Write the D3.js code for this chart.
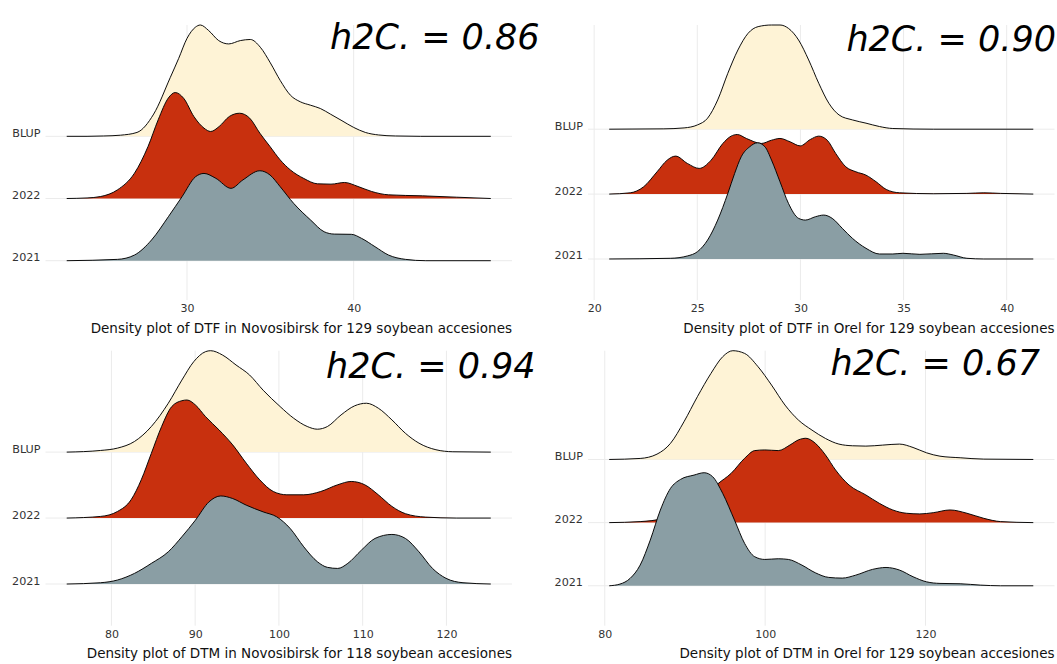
<!DOCTYPE html>
<html>
<head>
<meta charset="utf-8">
<script src="https://cdn.jsdelivr.net/npm/d3@7"></script>
<style>
  html, body { margin: 0; padding: 0; background: #ffffff; }
  svg { display: block; font-family: "DejaVu Sans", sans-serif; }
</style>
</head>
<body>
<svg id="chart" width="1057" height="664"></svg>
<script>
// ---- Density estimates: [days, relative density] ----------------------
// DTF, Novosibirsk
const dtfNovBLUP = [[22.78,0],[24,0],[25,0.003],[26,0.01],[27,0.035],[28,0.2],[29,0.53],[29.5,0.7],[30,0.88],[30.5,0.98],[30.8,1.0],[31.3,0.95],[31.9,0.86],[32.5,0.83],[33.2,0.86],[33.8,0.87],[34.4,0.8],[35,0.66],[35.6,0.5],[36.2,0.37],[36.8,0.31],[37.4,0.28],[38,0.25],[38.6,0.2],[39.3,0.14],[40,0.08],[40.7,0.035],[41.5,0.012],[42.5,0.003],[44,0],[48.23,0]];
const dtfNov2022 = [[22.78,0],[24,0.005],[24.82,0.018],[25.83,0.078],[26.85,0.228],[27.66,0.467],[28.27,0.707],[28.88,0.903],[29.29,0.952],[29.8,0.9],[30.41,0.737],[31.02,0.632],[31.42,0.602],[31.93,0.647],[32.54,0.737],[33.15,0.766],[33.76,0.722],[34.37,0.587],[34.98,0.467],[35.59,0.347],[36.2,0.257],[37.01,0.18],[37.83,0.132],[38.64,0.129],[39.45,0.144],[40.26,0.108],[41.08,0.063],[42.09,0.033],[44.13,0.024],[46.16,0.012],[48.23,0]];
const dtfNov2021 = [[22.78,0],[25.83,0.012],[26.85,0.051],[27.87,0.186],[28.88,0.395],[29.7,0.575],[30.51,0.754],[31.02,0.784],[31.73,0.74],[32.64,0.65],[33.35,0.725],[34.37,0.808],[34.98,0.77],[35.59,0.665],[36.4,0.515],[37.42,0.365],[38.23,0.26],[38.84,0.239],[39.86,0.237],[40.47,0.201],[41.28,0.126],[42.09,0.051],[43.11,0.012],[44.33,0],[48.23,0]];

// DTF, Orel
const dtfOrelBLUP = [[20.73,0],[23.38,0.003],[24.36,0.011],[25.01,0.037],[25.5,0.095],[25.99,0.252],[26.48,0.481],[26.97,0.682],[27.46,0.825],[27.95,0.883],[28.6,0.897],[29.01,0.897],[29.42,0.868],[29.91,0.768],[30.4,0.596],[30.89,0.395],[31.38,0.223],[31.87,0.123],[32.52,0.08],[33.18,0.052],[33.83,0.023],[34.48,0.006],[36.44,0],[41.29,0]];
const dtfOrel2022 = [[20.73,0],[21.75,0.011],[22.4,0.063],[23.05,0.192],[23.54,0.292],[23.95,0.327],[24.52,0.264],[25.09,0.221],[25.67,0.292],[26.24,0.436],[26.64,0.499],[26.94,0.513],[27.38,0.479],[28.11,0.436],[28.6,0.464],[29.01,0.479],[29.5,0.45],[29.99,0.415],[30.48,0.47],[30.89,0.499],[31.3,0.464],[31.71,0.35],[32.2,0.235],[32.69,0.192],[33.18,0.163],[33.67,0.106],[34.16,0.04],[34.81,0.011],[36.44,0.003],[38.07,0.006],[38.89,0.011],[39.71,0.006],[41.29,0]];
const dtfOrel2021 = [[20.73,0],[23.71,0.006],[24.52,0.026],[25.01,0.063],[25.5,0.163],[25.99,0.335],[26.48,0.564],[26.81,0.736],[27.13,0.88],[27.54,0.966],[27.92,1.0],[28.28,0.966],[28.6,0.851],[29.01,0.665],[29.42,0.479],[29.91,0.35],[30.24,0.335],[30.73,0.364],[31.13,0.378],[31.54,0.35],[32.03,0.264],[32.52,0.178],[33.18,0.092],[33.83,0.043],[34.48,0.043],[34.97,0.049],[35.79,0.04],[36.93,0.049],[37.42,0.034],[38.07,0.006],[38.89,0],[41.29,0]];

// DTM, Novosibirsk
const dtmNovBLUP = [[74.66,0],[78.71,0.014],[80.73,0.034],[82.75,0.09],[84.77,0.217],[86.79,0.414],[88.41,0.61],[89.83,0.766],[91.24,0.851],[91.85,0.859],[93.27,0.822],[94.88,0.738],[96.5,0.653],[98.12,0.524],[100.14,0.386],[101.76,0.287],[103.38,0.217],[104.59,0.194],[105.8,0.217],[107.42,0.315],[109.04,0.392],[110.45,0.414],[111.87,0.372],[113.49,0.273],[115.11,0.159],[116.72,0.076],[118.75,0.02],[120.77,0.003],[125.3,0]];
const dtmNov2022 = [[74.66,0],[78.71,0.014],[80.73,0.056],[82.35,0.155],[83.56,0.324],[84.77,0.549],[85.99,0.775],[87.2,0.944],[88.41,0.994],[89.02,1.0],[90.03,0.958],[91.24,0.859],[92.86,0.746],[94.48,0.62],[96.1,0.465],[97.71,0.324],[99.33,0.225],[100.95,0.197],[102.97,0.197],[104.99,0.225],[107.02,0.282],[108.63,0.31],[110.25,0.282],[111.87,0.197],[113.49,0.099],[115.11,0.037],[117.53,0.008],[121.17,0],[125.3,0]];
const dtmNov2021 = [[74.66,0],[78.71,0.011],[80.73,0.034],[82.75,0.09],[84.77,0.175],[86.79,0.273],[88.41,0.4],[90.03,0.541],[91.65,0.696],[93.06,0.746],[94.48,0.724],[96.1,0.668],[98.12,0.611],[99.74,0.569],[101.35,0.47],[102.97,0.315],[104.59,0.189],[105.8,0.141],[107.02,0.132],[108.23,0.175],[109.85,0.287],[111.47,0.386],[113.49,0.42],[115.11,0.386],[116.72,0.273],[118.34,0.132],[119.96,0.048],[121.98,0.011],[125.3,0]];

// DTM, Orel
const dtmOrelBLUP = [[80.55,0],[84.41,0.009],[86.51,0.047],[88.19,0.142],[89.87,0.333],[91.55,0.555],[93.24,0.761],[94.71,0.909],[95.97,0.962],[97.44,0.938],[99.12,0.82],[100.8,0.658],[102.48,0.481],[104.16,0.348],[105.84,0.26],[107.52,0.186],[109.2,0.136],[110.88,0.121],[112.56,0.118],[114.66,0.127],[116.76,0.136],[118.45,0.106],[120.13,0.059],[121.81,0.029],[124.33,0.015],[127.27,0.003],[133.45,0]];
const dtmOrel2022 = [[80.55,0],[84.41,0.009],[87.35,0.038],[89.45,0.097],[91.55,0.186],[92.82,0.26],[94.08,0.342],[95.76,0.436],[97.44,0.569],[98.7,0.637],[99.96,0.643],[101.64,0.637],[103.11,0.687],[104.16,0.732],[105.08,0.746],[106.26,0.702],[107.52,0.599],[108.78,0.466],[110.46,0.333],[112.56,0.245],[114.24,0.171],[115.92,0.112],[117.61,0.083],[119.29,0.077],[120.97,0.088],[123.07,0.112],[125.17,0.083],[127.27,0.038],[129.37,0.009],[133.45,0]];
const dtmOrel2021 = [[80.55,0],[81.89,0.015],[83.15,0.065],[84.41,0.183],[85.67,0.404],[86.93,0.67],[88.19,0.861],[89.45,0.941],[91.13,0.979],[92.39,1.0],[93.45,0.965],[94.71,0.817],[96.18,0.581],[97.44,0.375],[98.7,0.257],[99.96,0.233],[101.64,0.239],[102.9,0.233],[104.58,0.183],[106.26,0.115],[107.94,0.074],[109.62,0.068],[111.3,0.094],[113.4,0.145],[115.08,0.162],[116.76,0.139],[118.45,0.08],[120.13,0.035],[121.81,0.021],[124.33,0.018],[126.85,0.006],[129.37,0],[133.45,0]];

// ---- Categories, ticks, labels -----------------------------------------
const groups = ["2021", "2022", "BLUP"];            // bottom to top
const ticksDtfNov = [30, 40];
const ticksDtfOrel = [20, 25, 30, 35, 40];
const ticksDtmNov = [80, 90, 100, 110, 120];
const ticksDtmOrel = [80, 100, 120];
const axisTitles = [
  "Density plot of DTF in Novosibirsk for 129 soybean accesiones",
  "Density plot of DTF in Orel for 129 soybean accesiones",
  "Density plot of DTM in Novosibirsk for 118 soybean accesiones",
  "Density plot of DTM in Orel for 129 soybean accesiones"
];
const heritability = [0.86, 0.90, 0.94, 0.67];
// annotation anchor in data units: [x centre, ridge level of baseline]
const h2Anchors = [[44.87, 4.40], [37.31, 4.20], [118.14, 4.13], [121.22, 4.33]];

// ---- Styling ------------------------------------------------------------
const fillColor = { "BLUP": "#fef3d6", "2022": "#c8300e", "2021": "#8a9ea4" };
const RIDGE_SCALE = 1.79;     // tallest ridge height in row spacings
const LOW_EXPAND = 0.632;     // space below the first ridge, in row spacings

const panels = [
  { series: { "2021": dtfNov2021, "2022": dtfNov2022, "BLUP": dtfNovBLUP }, ticks: ticksDtfNov,
    box: { x0: 45.5, x1: 512, y0: 25, y1: 300 } },
  { series: { "2021": dtfOrel2021, "2022": dtfOrel2022, "BLUP": dtfOrelBLUP }, ticks: ticksDtfOrel,
    box: { x0: 588, x1: 1054.5, y0: 25, y1: 300 } },
  { series: { "2021": dtmNov2021, "2022": dtmNov2022, "BLUP": dtmNovBLUP }, ticks: ticksDtmNov,
    box: { x0: 45.5, x1: 512, y0: 350.7, y1: 625.7 } },
  { series: { "2021": dtmOrel2021, "2022": dtmOrel2022, "BLUP": dtmOrelBLUP }, ticks: ticksDtmOrel,
    box: { x0: 588, x1: 1054.5, y0: 350.7, y1: 625.7 } }
];

const svg = d3.select("#chart");
const fmt2 = d3.format(".2f");

panels.forEach((p, i) => {
  const b = p.box;
  const level = g => groups.indexOf(g) + 1;

  const allPts = groups.flatMap(g => p.series[g]);
  const [xmin, xmax] = d3.extent(allPts, d => d[0]);
  const pad = (xmax - xmin) * 0.05;
  const x = d3.scaleLinear().domain([xmin - pad, xmax + pad]).range([b.x0, b.x1]);

  const topLevel = d3.max(groups, g => level(g) + RIDGE_SCALE * d3.max(p.series[g], d => d[1]));
  const y = d3.scaleLinear().domain([1 - LOW_EXPAND, topLevel]).range([b.y1, b.y0]);

  const panel = svg.append("g").attr("class", "panel");

  // grid
  panel.append("g").selectAll("line").data(p.ticks).join("line")
    .attr("x1", d => x(d)).attr("x2", d => x(d))
    .attr("y1", b.y0).attr("y2", b.y1)
    .attr("stroke", "#ebebeb").attr("stroke-width", 1);
  panel.append("g").selectAll("line").data(groups).join("line")
    .attr("x1", b.x0).attr("x2", b.x1)
    .attr("y1", g => y(level(g))).attr("y2", g => y(level(g)))
    .attr("stroke", "#ebebeb").attr("stroke-width", 1);

  // ridges: top group first so lower ridges overlap it
  groups.slice().reverse().forEach(g => {
    const base = level(g);
    const pts = p.series[g];
    const area = d3.area()
      .x(d => x(d[0]))
      .y0(y(base))
      .y1(d => y(base + RIDGE_SCALE * d[1]))
      .curve(d3.curveMonotoneX);
    const line = d3.line()
      .x(d => x(d[0]))
      .y(d => y(base + RIDGE_SCALE * d[1]))
      .curve(d3.curveMonotoneX);
    panel.append("path").datum(pts).attr("d", area)
      .attr("fill", fillColor[g]).attr("stroke", "none");
    panel.append("path").datum(pts).attr("d", line)
      .attr("fill", "none").attr("stroke", "#000").attr("stroke-width", 0.95);
  });

  // x axis
  const xAxis = panel.append("g").attr("transform", `translate(0,${b.y1})`)
    .call(d3.axisBottom(x).tickValues(p.ticks).tickSize(0).tickPadding(4.5).tickFormat(d3.format("d")));
  xAxis.select(".domain").remove();
  xAxis.selectAll("text").attr("font-size", 11).attr("fill", "#333")
    .attr("font-family", "DejaVu Sans, sans-serif");

  // y axis
  const yAxis = panel.append("g").attr("transform", `translate(${b.x0},0)`)
    .call(d3.axisLeft(y).tickValues(groups.map(level)).tickSize(0).tickPadding(5)
      .tickFormat(v => groups[v - 1]));
  yAxis.select(".domain").remove();
  yAxis.selectAll("text").attr("font-size", 11.2).attr("fill", "#333").attr("dy", "0")
    .attr("font-family", "DejaVu Sans, sans-serif");

  // axis title
  panel.append("text")
    .attr("x", b.x1).attr("y", b.y1 + 32.5)
    .attr("text-anchor", "end")
    .attr("font-size", 13.5).attr("fill", "#111")
    .text(axisTitles[i]);

  // heritability annotation
  const [ax, ay] = h2Anchors[i];
  panel.append("text")
    .attr("x", x(ax)).attr("y", y(ay))
    .attr("text-anchor", "middle")
    .attr("font-size", 35).attr("font-style", "italic").attr("fill", "#000")
    .text(`h2C. = ${fmt2(heritability[i])}`);
});
</script>
</body>
</html>
